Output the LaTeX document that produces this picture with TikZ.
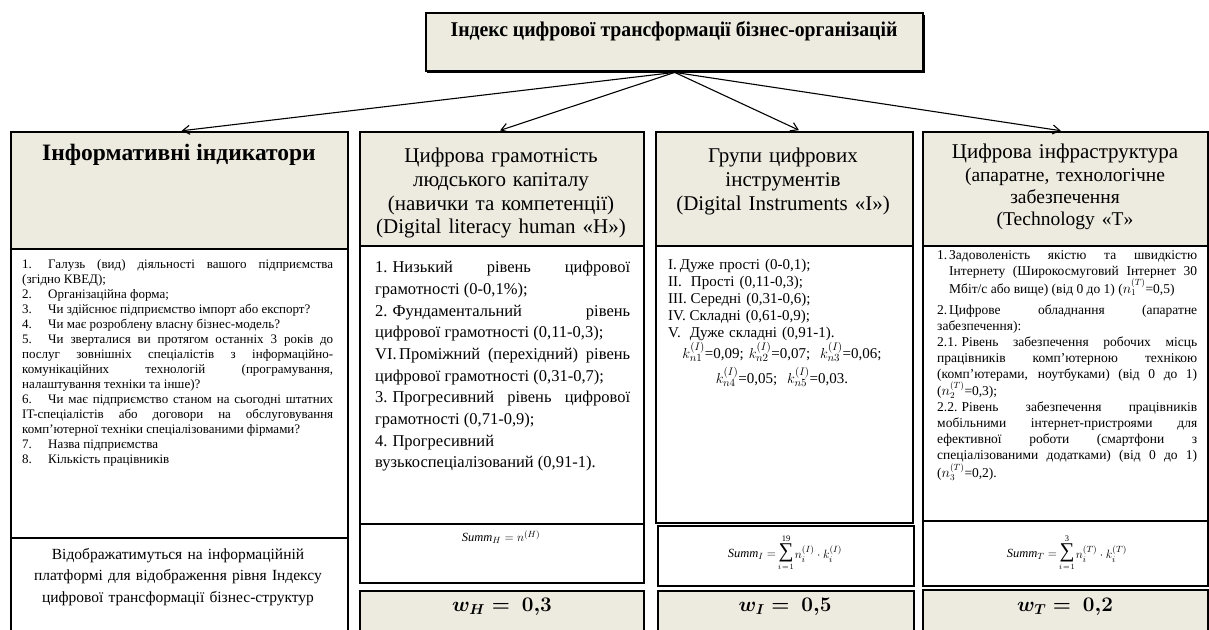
\documentclass[tikz,border=0pt]{standalone}
\usepackage{fontspec}
\setmainfont{Liberation Serif}
\usetikzlibrary{arrows.meta}
\definecolor{hdrfill}{RGB}{237,234,224}
\begin{document}
\begin{tikzpicture}[x=1pt,y=-1pt,
 box/.style={draw=black, line width=2.4pt, inner sep=0pt, anchor=north west, fill=white},
 hdr/.style={box, fill=hdrfill},
 txt/.style={inner sep=0pt, anchor=north west, align=justify, execute at begin node={\setlength{\parindent}{0pt}\emergencystretch=2em}},
 ctxt/.style={inner sep=0pt, anchor=north, align=center},
 conn/.style={line width=1.1pt, -{Straight Barb[length=7pt,width=9pt]}, shorten >=2pt},
 sumf/.style={inner sep=0pt, font=\fontsize{12.5}{14}\selectfont},
 sigf/.style={inner sep=0pt, font=\fontsize{21}{22}\selectfont},
 limf/.style={inner sep=0pt, font=\fontsize{8.5}{9}\selectfont},
 wf/.style={inner sep=0pt, font=\boldmath\fontsize{21}{22}\selectfont}
]
\useasboundingbox (0,0) rectangle (1209,629);
\clip (0,0) rectangle (1209,629);

% top box
\fill[black] (427,15) rectangle (925,73);
\node[hdr, minimum width=497pt, minimum height=58pt] (top) at (425,12) {};
\node[inner sep=0pt, font=\fontsize{21}{22}\selectfont\bfseries] (title) at (674,31) {\scalebox{0.94}[1]{Індекс цифрової трансформації бізнес-організацій}};

% column 1
\node[hdr, minimum width=337pt, minimum height=117pt] (h1) at (10,131) {};
\node[box, minimum width=337pt, minimum height=289pt] (c1) at (10,248) {};
\node[box, minimum width=337pt, minimum height=110pt] (b1) at (10,537) {};

% column 2
\node[hdr, minimum width=284pt, minimum height=114pt] (h2) at (359,131) {};
\node[box, minimum width=284pt, minimum height=278pt] (c2) at (359,245) {};
\node[box, minimum width=284pt, minimum height=59pt] (s2) at (359,523) {};
\node[hdr, minimum width=284pt, minimum height=60pt] (w2) at (359,590) {};

% column 3
\node[hdr, minimum width=257pt, minimum height=114pt] (h3) at (655,131) {};
\node[box, minimum width=257pt, minimum height=277pt] (c3) at (655,245) {};
\node[box, minimum width=256pt, minimum height=60pt] (s3) at (657,525) {};
\node[hdr, minimum width=256pt, minimum height=60pt] (w3) at (657,590) {};

% column 4
\node[hdr, minimum width=285pt, minimum height=114pt] (h4) at (922,131) {};
\node[box, minimum width=285pt, minimum height=275pt] (c4) at (922,245) {};
\node[box, minimum width=285pt, minimum height=65pt] (s4) at (922,520) {};
\node[hdr, minimum width=285pt, minimum height=60pt] (w4) at (922,589) {};

% arrows
\draw[conn] (top.south) -- (h1.north);
\draw[conn] (top.south) -- ([xshift=-4pt]h2.north);
\draw[conn] (top.south) -- ([xshift=16pt]h3.north);
\draw[conn] (top.south) -- ([xshift=-3pt]h4.north);

% header texts
\node[inner sep=0pt, font=\fontsize{23.5}{25}\selectfont\bfseries] (t1) at (179,155) {Інформативні індикатори};
\node[ctxt, text width=282pt, font=\fontsize{21}{23.7}\selectfont] (t2) at (501,148) {Цифрова грамотність\\людського капіталу\\(навички та компетенції)\\(Digital literacy human «H»)};
\node[ctxt, text width=255pt, font=\fontsize{21}{23.7}\selectfont] (t3) at (783,148) {Групи цифрових\\інструментів\\(Digital Instruments «I»)};
\node[ctxt, text width=283pt, font=\fontsize{21}{22.3}\selectfont] (t4) at (1065,144) {Цифрова інфраструктура\\\fontsize{19.5}{22.3}\selectfont (апаратне, технологічне\\забезпечення\\(Technology «T»};

% column 1 body
\node[txt, text width=311pt, font=\fontsize{13}{15}\selectfont] (l1) at (22,259) {%
\makebox[26pt][l]{1.}Галузь (вид) діяльності вашого підприємства\linebreak (згідно КВЕД);\par
\makebox[26pt][l]{2.}Організаційна форма;\par
\makebox[26pt][l]{3.}Чи здійснює підприємство імпорт або експорт?\par
\makebox[26pt][l]{4.}Чи має розроблену власну бізнес-модель?\par
\makebox[26pt][l]{5.}Чи зверталися ви протягом останніх 3 років до\linebreak послуг зовнішніх спеціалістів з інформаційно-\linebreak комунікаційних технологій (програмування,\linebreak налаштування техніки та інше)?\par
\makebox[26pt][l]{6.}Чи має підприємство станом на сьогодні штатних\linebreak IT-спеціалістів або договори на обслуговування\linebreak комп'ютерної техніки спеціалізованими фірмами?\par
\makebox[26pt][l]{7.}Назва підприємства\par
\makebox[26pt][l]{8.}Кількість працівників};

\node[ctxt, text width=330pt, font=\fontsize{15.5}{21.5}\selectfont] (l1b) at (178,548) {Відображатимуться на інформаційній\\платформі для відображення рівня Індексу\\цифрової трансформації бізнес-структур};

% column 2 body
\node[txt, text width=255pt, font=\fontsize{16.5}{21.7}\selectfont] (l2) at (375,261) {%
1.\hspace{0.3em}Низький рівень цифрової\linebreak грамотності (0-0,1\%);\par
2.\hspace{0.3em}Фундаментальний рівень\linebreak цифрової грамотності (0,11-0,3);\par
VI.\hspace{0.15em}Проміжний (перехідний) рівень\linebreak цифрової грамотності (0,31-0,7);\par
3.\hspace{0.3em}Прогресивний рівень цифрової\linebreak грамотності (0,71-0,9);\par
4.\hspace{0.3em}Прогресивний\newline вузькоспеціалізований (0,91-1).};

% column 3 body
\node[inner sep=0pt, anchor=north west, text width=235pt, font=\fontsize{15}{17}\selectfont, align=left] (l3) at (668,259) {%
I.\hspace{0.2em}Дуже прості (0-0,1);\\
II.\hspace{0.6em}Прості (0,11-0,3);\\
III.\hspace{0.25em}Середні (0,31-0,6);\\
IV.\hspace{0.25em}Складні (0,61-0,9);\\
V.\hspace{0.6em}Дуже складні (0,91-1).};
\node[ctxt, text width=250pt, font=\fontsize{15}{25}\selectfont] (k3) at (782,342) {%
$k^{(I)}_{n1}$=0,09; $k^{(I)}_{n2}$=0,07;\ \ $k^{(I)}_{n3}$=0,06;\\
$k^{(I)}_{n4}$=0,05;\ \ $k^{(I)}_{n5}$=0,03.};

% column 4 body
\node[txt, text width=260pt, font=\fontsize{13.5}{16}\selectfont] (l4) at (937,250) {%
\hangindent=12pt\hangafter=1\makebox[12pt][l]{1.}Задоволеність якістю та швидкістю\linebreak Інтернету (Широкосмуговий Інтернет 30\linebreak Мбіт/с або вище) (від 0 до 1) ($n^{(T)}_1$=0,5)\par
\vspace{5pt}
\makebox[12pt][l]{2.}Цифрове обладнання (апаратне\linebreak забезпечення):\par
2.1.\hspace{0.3em}Рівень забезпечення робочих місць\linebreak працівників комп'ютерною технікою\linebreak (комп'ютерами, ноутбуками) (від 0 до 1)\linebreak ($n^{(T)}_2$=0,3);\par
2.2.\hspace{0.3em}Рівень забезпечення працівників\linebreak мобільними інтернет-пристроями для\linebreak ефективної роботи (смартфони з\linebreak спеціалізованими додатками) (від 0 до 1)\linebreak ($n^{(T)}_3$=0,2).};

% sum formulas
\node[sumf] (f2) at (501,537) {$\mathit{Summ}_H = n^{(H)}$};

\node[sigf] (f3s) at (786,553) {∑};
\node[sumf, anchor=east] (f3a) at ([xshift=-2pt,yshift=-1pt]f3s.west) {$\mathit{Summ}_I =$};
\node[sumf, anchor=west] (f3b) at ([xshift=1pt,yshift=-1pt]f3s.east) {$n^{(I)}_i\cdot k^{(I)}_i$};
\node[limf, anchor=south] (f3u) at ([yshift=2pt]f3s.north) {19};
\node[limf, anchor=north] (f3l) at ([yshift=-2pt]f3s.south) {$i\!=\!1$};

\node[sigf] (f4s) at (1067,553) {∑};
\node[sumf, anchor=east] (f4a) at ([xshift=-2pt,yshift=-1pt]f4s.west) {$\mathit{Summ}_T =$};
\node[sumf, anchor=west] (f4b) at ([xshift=1pt,yshift=-1pt]f4s.east) {$n^{(T)}_i\cdot k^{(T)}_i$};
\node[limf, anchor=south] (f4u) at ([yshift=2pt]f4s.north) {3};
\node[limf, anchor=north] (f4l) at ([yshift=-2pt]f4s.south) {$i\!=\!1$};

% weights
\node[wf] (wh) at (502,607) {$w_H =\ 0{,}3$};
\node[wf] (wi) at (785,607) {$w_I =\ 0{,}5$};
\node[wf] (wt) at (1065,607) {$w_T =\ 0{,}2$};
\end{tikzpicture}
\end{document}
